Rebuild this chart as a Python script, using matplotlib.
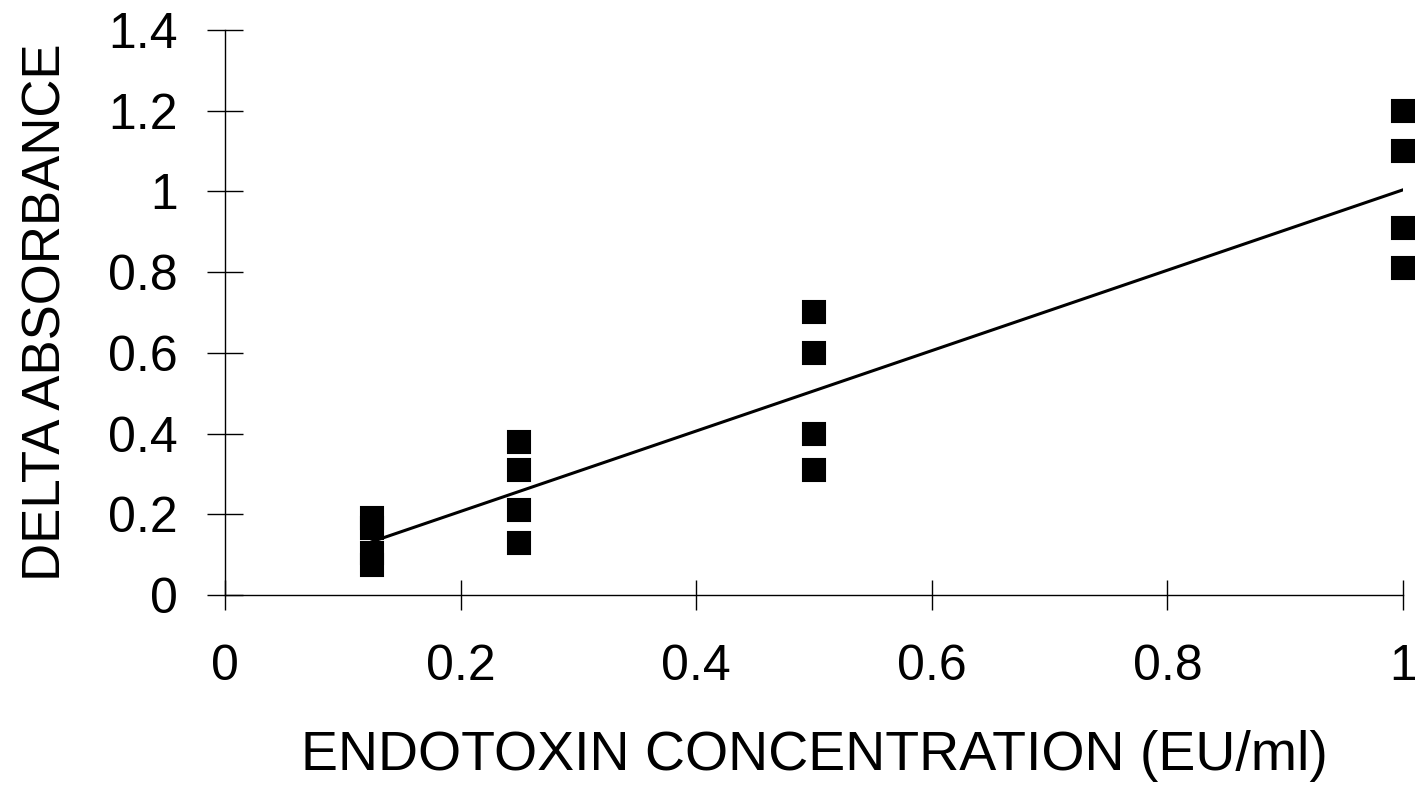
import numpy as np
import matplotlib.pyplot as plt

conc = [0.125] * 4 + [0.25] * 4 + [0.5] * 4 + [1.0] * 4
absorb = [0.19, 0.165, 0.105, 0.075,
          0.38, 0.31, 0.21, 0.13,
          0.70, 0.60, 0.40, 0.31,
          1.20, 1.10, 0.91, 0.81]
xticks = [0, 0.2, 0.4, 0.6, 0.8, 1]
yticks = [0, 0.2, 0.4, 0.6, 0.8, 1, 1.2, 1.4]
xlabels = ['0', '0.2', '0.4', '0.6', '0.8', '1']
ylabels = ['0', '0.2', '0.4', '0.6', '0.8', '1', '1.2', '1.4']

plt.rcParams['font.family'] = ['Liberation Sans', 'DejaVu Sans']

fig = plt.figure(figsize=(14.15, 7.85), dpi=100)
ax = fig.add_axes([0.159, 0.242, 0.9915 - 0.159, 0.962 - 0.242])

# linear fit through the points
k, b = np.polyfit(conc, absorb, 1)
xl = np.array([min(conc), max(conc)])
ax.plot(xl, k * xl + b, color='black', lw=2.2, zorder=2)

ax.plot(conc, absorb, 's', color='black', markersize=16, mew=1.5,
        markeredgecolor='black', linestyle='none', clip_on=False, zorder=3)

ax.set_xlim(0, 1)
ax.set_ylim(0, 1.4)
ax.set_xticks(xticks)
ax.set_xticklabels(xlabels)
ax.set_yticks(yticks)
ax.set_yticklabels(ylabels)

for s in ['top', 'right']:
    ax.spines[s].set_visible(False)
for s in ['left', 'bottom']:
    ax.spines[s].set_linewidth(1.0)

ax.tick_params(axis='x', direction='inout', length=22, width=1.0,
               labelsize=36, pad=24)
ax.tick_params(axis='y', direction='inout', length=26, width=1.0,
               labelsize=36, pad=21)

ax.set_xlabel('ENDOTOXIN CONCENTRATION (EU/ml)', fontsize=40, labelpad=29)
ax.set_ylabel('DELTA ABSORBANCE', fontsize=38, labelpad=26)

fig.savefig('out.png', dpi=100)
